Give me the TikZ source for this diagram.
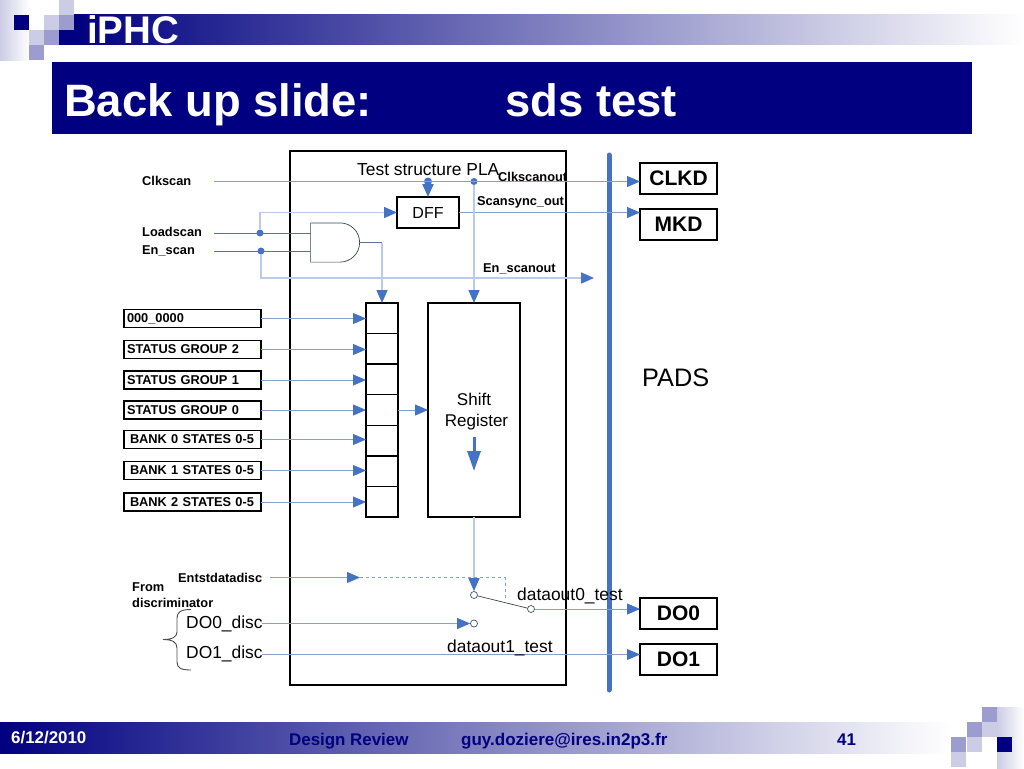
\documentclass[tikz,border=0pt]{standalone}
\usepackage{fontspec}
\setmainfont{Liberation Sans}
\usetikzlibrary{arrows.meta,positioning,shapes.gates.logic.US}
\newcommand{\fsz}[1]{\fontsize{#1}{#1}\selectfont}
\definecolor{navyband}{HTML}{000080}
\definecolor{midband}{HTML}{9898B8}
\definecolor{tipblue}{HTML}{4472C4}
\definecolor{wireblue}{HTML}{86A0CE}
\definecolor{paleblue}{HTML}{BACBE8}
\definecolor{darkwire}{HTML}{5B7299}
\definecolor{squarea}{HTML}{CCCCE6}
\definecolor{squareb}{HTML}{9C9CCE}
\tikzset{
    lbl/.style = {anchor=base west, inner sep=0pt, font=\bfseries\fsz{12.8}},
    txt/.style = {anchor=base west, inner sep=0pt, font=\fsz{17.4}},
    blk/.style = {draw=black, line width=1.4pt, outer sep=0pt, inner sep=0pt},
    padbox/.style = {blk, minimum width=77pt, minimum height=31pt, font=\bfseries\fsz{21}},
    cellbox/.style = {blk, minimum width=32pt, minimum height=30.57pt},
    statebox/.style = {blk, anchor=west, minimum height=18pt, text width=137pt, align=left, font=\bfseries\fsz{12.8}},
    wire/.style = {color=wireblue, line width=0.9pt},
    palewire/.style = {color=paleblue, line width=1.5pt},
    tip/.style = {-{Triangle[length=13pt,width=11pt,color=tipblue]}},
    dotmark/.style = {circle, fill=tipblue, minimum size=7pt, inner sep=0pt},
    swdot/.style = {circle, draw=darkwire!70!black, fill=white, line width=0.7pt, minimum size=7pt, inner sep=0pt},
    sq/.style = {minimum size=15pt, inner sep=0pt, anchor=north west, outer sep=0pt}
}
\begin{document}
\begin{tikzpicture}[x=1pt,y=-1pt]
    \useasboundingbox (0,0) rectangle (1024,768);

    \shade[left color=squarea, right color=white] (0,0) rectangle (29,60);
    \shade[left color=navyband, middle color=midband, right color=white] (73,15) rectangle (1024,45);
    \fill[navyband] (59,30) rectangle (73,45);
    \node[sq, fill=navyband] (sqa) at (14,15) {};
    \node[sq, fill=squarea] (sqb) at (44,15) {};
    \node[sq, fill=squareb] (sqc) at (59,15) {};
    \node[sq, fill=squarea] (sqd) at (59,0) {};
    \node[sq, fill=squarea] (sqe) at (29,30) {};
    \node[sq, fill=squareb] (sqf) at (44,30) {};
    \node[sq, fill=squareb] (sqg) at (29,45) {};
    \node[lbl, white, font=\bfseries\fsz{38.5}] (iphc) at (87,44) {iPHC};
    \node[fill=navyband, minimum width=920pt, minimum height=72pt, inner sep=0pt] (titlebar) at (512,98) {};
    \node[lbl, white, font=\bfseries\fsz{45.4}] (titlea) at (64,116) {Back up slide:};
    \node[lbl, white, font=\bfseries\fsz{45.4}] (titleb) at (505,116) {sds test};

    \shade[left color=navyband, middle color=midband, right color=white] (0,722) rectangle (951,753);
    \shade[left color=squarea, right color=white] (997,707) rectangle (1024,768);
    \node[sq, fill=squareb] (sqh) at (982,707) {};
    \node[sq, fill=squareb] (sqi) at (967,722) {};
    \node[sq, fill=squarea] (sqn) at (982,722) {};
    \node[sq, fill=squareb] (sqj) at (951,737) {};
    \node[sq, fill=squarea] (sqk) at (967,737) {};
    \node[sq, fill=navyband] (sql) at (997,737) {};
    \node[sq, fill=squarea] (sqm) at (951,752) {};
    \node[lbl, white, font=\bfseries\fsz{16.9}] (date) at (11,743) {6/12/2010};
    \node[lbl, navyband, font=\bfseries\fsz{16.9}] (review) at (289,745) {Design Review};
    \node[lbl, navyband, font=\bfseries\fsz{17}] (mail) at (461,745) {guy.doziere@ires.in2p3.fr};
    \node[lbl, navyband, font=\bfseries\fsz{16.9}] (page) at (837,745) {41};

    \node[blk, minimum width=276pt, minimum height=534pt] (pla) at (428,418) {};
    \coordinate (bartop) at (609,155);
    \coordinate (barend) at (609,690);
    \draw[tipblue, line width=5pt, line cap=round] (bartop) -- (barend);
    \node[txt, font=\fsz{25.3}] (pads) at (642,386) {PADS};

    \node[padbox] (clkd) at (678.5,178.5) {CLKD};
    \node[padbox] (mkd) at (678.5,224.5) {MKD};
    \node[padbox] (do0) at (678.5,613.5) {DO0};
    \node[padbox] (do1) at (678.5,659.5) {DO1};
    \node[blk, minimum width=62pt, minimum height=31pt, font=\fsz{16}] (dff) at (428,212.5) {DFF};
    \node[blk, minimum width=92pt, minimum height=214pt] (shift) at (474,410) {};
    \node[txt, anchor=base, font=\fsz{17}] (shifta) at (474,405) {Shift};
    \node[txt, anchor=base, font=\fsz{17}] (shiftb) at (476.5,426) {Register};
    \node[and gate US, draw=darkwire!60!black, line width=0.7pt, logic gate inputs=nn, minimum width=49pt, minimum height=37pt, inner sep=0pt, outer sep=0pt] (andgate) at (333.5,242.5) {};

    \node[cellbox] (cell1) at (382,318.3) {};
    \foreach \i/\j in {2/1,3/2,4/3,5/4,6/5,7/6}
        \node[cellbox, below=0pt of cell\j] (cell\i) {};

    \foreach \i/\ytop/\pad/\name in {1/318.5/3/000\_0000,2/349.5/3/STATUS GROUP 2,3/380/3/STATUS GROUP 1,4/410/3/STATUS GROUP 0,5/439.5/6/BANK 0 STATES 0-5,6/470.5/6/BANK 1 STATES 0-5,7/502/6/BANK 2 STATES 0-5}
        \node[statebox] (state\i) at (124,\ytop) {\hspace*{\pad pt}\name};
    \foreach \i in {1,...,7}
        \draw[wire, tip] (state\i.east) -- (state\i.east -| cell\i.west);

    \node[lbl] (clkscan) at (142,185) {Clkscan};
    \node[lbl] (loadscan) at (142,236) {Loadscan};
    \node[lbl] (enscan) at (142,254) {En\_scan};
    \node[lbl] (entst) at (178,582) {Entstdatadisc};
    \node[lbl] (froma) at (132,591) {From};
    \node[lbl] (fromb) at (132,607) {discriminator};
    \node[txt] (do0disc) at (186,628) {DO0\_disc};
    \node[txt] (do1disc) at (186,658) {DO1\_disc};
    \node[txt] (planame) at (357,175) {Test structure PLA};
    \node[lbl] (clkout) at (498,181.5) {Clkscanout};
    \node[lbl] (syncout) at (477,205) {Scansync\_out};
    \node[lbl] (enout) at (483,272) {En\_scanout};

    \coordinate (clkstart) at (214,181.5);
    \coordinate (loadstart) at (214,233);
    \coordinate (enstart) at (214,251);
    \coordinate (entststart) at (270,577.5);
    \coordinate (entstmid) at (360,577.5);
    \coordinate (entstcorner) at (505,577.5);
    \coordinate (entstend) at (505,598);
    \coordinate (enend) at (594,278);
    \coordinate (do0start) at (262,623.5);
    \coordinate (do1start) at (262,654.5);
    \coordinate (shifttop) at (474,437);
    \coordinate (shiftlow) at (474,471);

    \node[dotmark, minimum size=8pt] (dotclk) at (428,181.5) {};
    \node[dotmark] (dotclkout) at (474,181.5) {};
    \node[dotmark] (dotload) at (260,233) {};
    \node[dotmark] (doten) at (261,251) {};
    \node[swdot] (swa) at (474,595) {};
    \node[swdot] (swb) at (474,623.5) {};
    \node[swdot] (swc) at (531,609) {};

    \draw[wire, tip] (clkstart) -- (clkstart -| clkd.west);
    \draw[wire, tip] (dff.east) -- (dff.east -| mkd.west);
    \draw[palewire, tip] (dotload) |- (dff.west);
    \draw[darkwire] (loadstart) -- (loadstart -| andgate.west);
    \draw[darkwire] (enstart) -- (enstart -| andgate.west);
    \draw[palewire, tip] (doten) |- (enend);
    \draw[darkwire] (andgate.east) -- (andgate.east -| cell1.north);
    \draw[palewire, tip] (andgate.east -| cell1.north) -- (cell1.north);
    \draw[tipblue, line width=2pt, tip] (dotclk) -- (dff.north);
    \draw[palewire, tip] (dotclkout) -- (shift.north);
    \draw[wire, tip] (cell4.east) -- (cell4.east -| shift.west);
    \draw[tipblue, line width=3pt, -{Triangle[length=20pt,width=13pt]}] (shifttop) -- (shiftlow);
    \draw[palewire, tip] (shift.south) -- (swa);
    \draw[darkwire!60!black, line width=0.7pt] (swa) -- (swc);
    \draw[wire, tip] (swc) -- (swc -| do0.west);
    \draw[wire, tip] (do0start) -- (swb);
    \draw[wire, tip] (do1start) -- (do1start -| do1.west);
    \draw[wire, tip] (entststart) -- (entstmid);
    \draw[wireblue, line width=0.9pt, dashed] (entstmid) -- (entstcorner) -- (entstend);

    \node[txt] (dataa) at (517,600) {dataout0\_test};
    \node[txt] (datab) at (447,652) {dataout1\_test};

    \draw[black!70, line width=0.9pt] (191,609.5) .. controls (181,609.5) and (177,612) .. (177,618) -- (177,632) .. controls (177,637) and (172,639.5) .. (163,639.5) .. controls (172,639.5) and (177,642) .. (177,648) -- (177,662) .. controls (177,668) and (181,670) .. (191,670);
\end{tikzpicture}
\end{document}
